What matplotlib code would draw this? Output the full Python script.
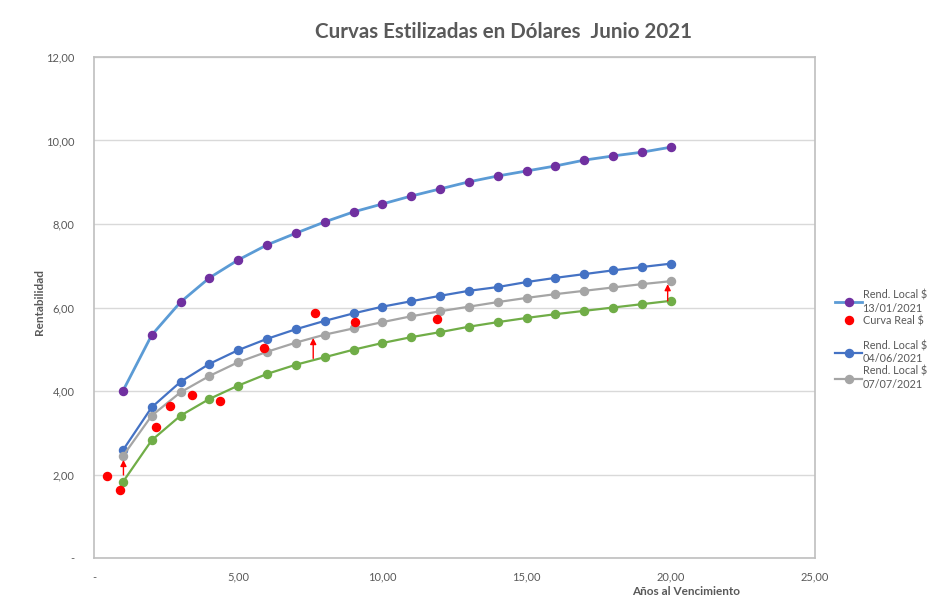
import matplotlib
matplotlib.use("Agg")
import matplotlib.pyplot as plt
import matplotlib.ticker as ticker
from matplotlib.lines import Line2D

plazos = list(range(1, 21))

rend_1301 = [4.00, 5.34, 6.13, 6.71, 7.14, 7.50, 7.78, 8.05, 8.29, 8.48,
             8.67, 8.84, 9.01, 9.15, 9.27, 9.39, 9.53, 9.63, 9.72, 9.84]
rend_0406 = [2.58, 3.61, 4.22, 4.65, 4.98, 5.25, 5.48, 5.68, 5.86, 6.02,
             6.15, 6.28, 6.40, 6.49, 6.61, 6.71, 6.80, 6.89, 6.97, 7.05]
rend_0707 = [2.44, 3.41, 3.97, 4.36, 4.69, 4.94, 5.16, 5.35, 5.50, 5.65,
             5.79, 5.91, 6.02, 6.13, 6.23, 6.32, 6.40, 6.48, 6.56, 6.63]
rend_verde = [1.82, 2.82, 3.41, 3.81, 4.13, 4.41, 4.63, 4.81, 4.99, 5.15,
              5.29, 5.41, 5.54, 5.65, 5.75, 5.84, 5.92, 6.00, 6.08, 6.16]

real_x = [0.44, 0.90, 2.15, 2.64, 3.40, 4.37, 5.89, 7.65, 9.06, 11.90]
real_y = [1.96, 1.62, 3.14, 3.65, 3.90, 3.76, 5.02, 5.88, 5.65, 5.72]

flecha_x = [1.02, 7.60, 19.89]
flecha_desde = [1.99, 4.78, 6.16]
flecha_hasta = [2.35, 5.27, 6.56]

gris = '#595959'
plt.rcParams['font.family'] = ['Lato', 'DejaVu Sans']

fig = plt.figure(figsize=(9.3, 6.1), dpi=100)
ax = fig.add_axes([0.1011, 0.0852, 0.7753, 0.8214])

ax.plot(plazos, rend_1301, color='#5B9BD5', lw=2, marker='o', ms=5.8,
        mfc='#7030A0', mec='#7030A0', label='Rend. Local $\n13/01/2021', zorder=3)
ax.plot(real_x, real_y, ls='none', marker='o', ms=5.8, color='#FF0000',
        label='Curva Real $', zorder=5)
ax.plot(plazos, rend_verde, color='#70AD47', lw=1.6, marker='o', ms=5.8, zorder=3)
ax.plot(plazos, rend_0406, color='#4472C4', lw=1.6, marker='o', ms=5.8,
        label='Rend. Local $\n04/06/2021', zorder=3)
ax.plot(plazos, rend_0707, color='#A5A5A5', lw=1.6, marker='o', ms=5.8,
        label='Rend. Local $\n07/07/2021', zorder=3)

for x, y0, y1 in zip(flecha_x, flecha_desde, flecha_hasta):
    ax.annotate('', xy=(x, y1), xytext=(x, y0),
                arrowprops=dict(arrowstyle='-|>', color='#FF0000', lw=1,
                                mutation_scale=9, shrinkA=0, shrinkB=0),
                zorder=6)

ax.set_xlim(0, 25)
ax.set_ylim(0, 12)
ax.xaxis.set_major_locator(ticker.MultipleLocator(5))
ax.yaxis.set_major_locator(ticker.MultipleLocator(2))
fmt = ticker.FuncFormatter(lambda v, p: '-' if v == 0 else f'{v:.2f}'.replace('.', ','))
ax.xaxis.set_major_formatter(fmt)
ax.yaxis.set_major_formatter(fmt)
ax.tick_params(length=0, labelsize=8, labelcolor=gris)
ax.tick_params(axis='x', pad=10)
ax.tick_params(axis='y', pad=14)
ax.grid(axis='y', color='#D9D9D9', lw=1)
ax.set_axisbelow(True)
for s in ax.spines.values():
    s.set_color('#BFBFBF')
    s.set_linewidth(1.2)

fig.text(0.541, 0.948, 'Curvas Estilizadas en Dólares  Junio 2021', ha='center',
         va='center', fontsize=14.8, fontweight='bold', color=gris)
fig.text(0.043, 0.505, 'Rentabilidad', rotation=90, ha='center', va='center',
         fontsize=8.5, fontweight='bold', color=gris)
fig.text(0.738, 0.031, 'Años al Vencimiento', ha='center', va='center',
         fontsize=8.5, fontweight='bold', color=gris)

h, l = ax.get_legend_handles_labels()
blanco = Line2D([], [], ls='none')
handles = [h[0], h[1], blanco, h[2], h[3]]
labels = [l[0], l[1], ' ', l[2], l[3]]
fig.legend(handles, labels, loc='center left', bbox_to_anchor=(0.892, 0.443),
           frameon=False, fontsize=7.8, labelcolor=gris, handlelength=2.5,
           handletextpad=0.05, labelspacing=0.15, borderpad=0)

fig.savefig('out.png', dpi=100)
